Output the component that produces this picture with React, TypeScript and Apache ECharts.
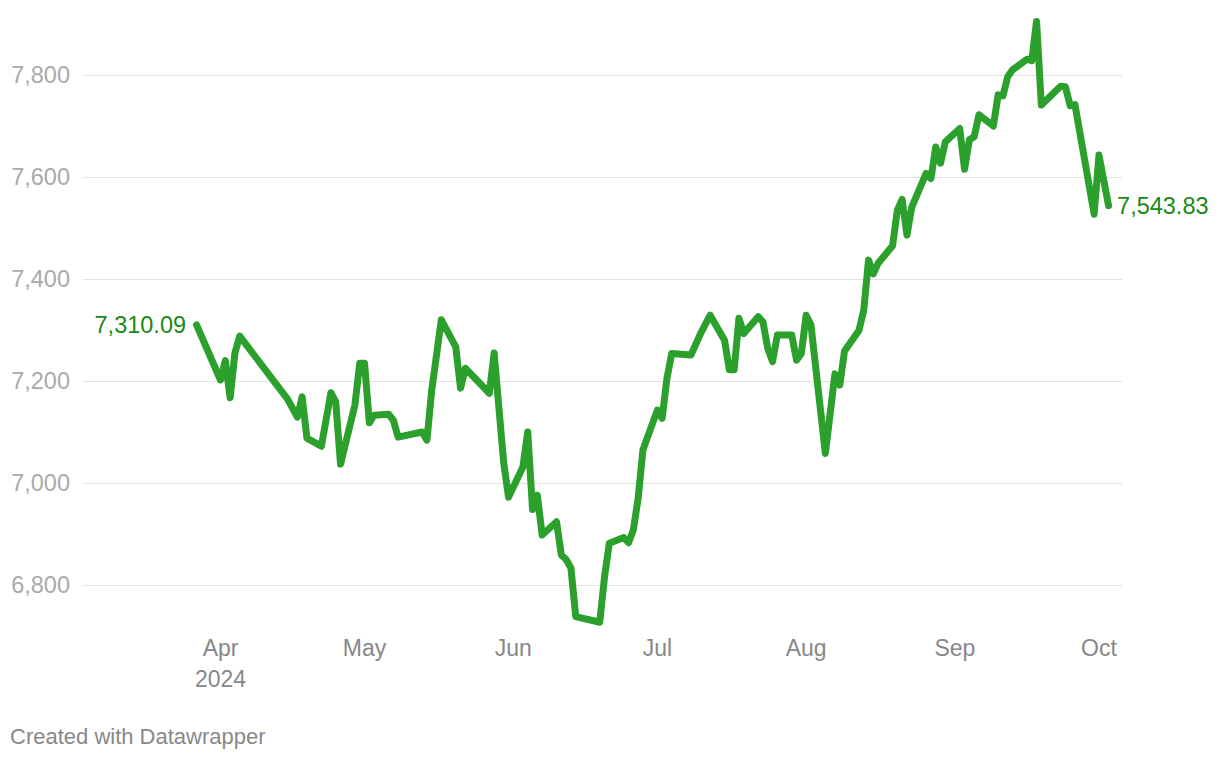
import React, { useEffect, useRef } from 'react';
import * as echarts from 'echarts';

const dates = [
  '2024-03-27', '2024-04-01', '2024-04-02', '2024-04-03', '2024-04-04', '2024-04-05',
  '2024-04-15', '2024-04-17', '2024-04-18', '2024-04-19', '2024-04-22', '2024-04-24',
  '2024-04-25', '2024-04-26', '2024-04-29', '2024-04-30', '2024-05-01', '2024-05-02',
  '2024-05-03', '2024-05-06', '2024-05-07', '2024-05-08', '2024-05-13', '2024-05-14',
  '2024-05-15', '2024-05-17', '2024-05-20', '2024-05-21', '2024-05-22', '2024-05-27',
  '2024-05-28', '2024-05-30', '2024-05-31', '2024-06-03', '2024-06-04', '2024-06-05',
  '2024-06-06', '2024-06-07', '2024-06-10', '2024-06-11', '2024-06-12', '2024-06-13',
  '2024-06-14', '2024-06-19', '2024-06-20', '2024-06-21', '2024-06-24', '2024-06-25',
  '2024-06-26', '2024-06-27', '2024-06-28', '2024-07-01', '2024-07-02', '2024-07-03',
  '2024-07-04', '2024-07-08', '2024-07-10', '2024-07-12', '2024-07-15', '2024-07-16',
  '2024-07-17', '2024-07-18', '2024-07-19', '2024-07-22', '2024-07-23', '2024-07-24',
  '2024-07-25', '2024-07-26', '2024-07-29', '2024-07-30', '2024-07-31', '2024-08-01',
  '2024-08-02', '2024-08-05', '2024-08-07', '2024-08-08', '2024-08-09', '2024-08-12',
  '2024-08-13', '2024-08-14', '2024-08-15', '2024-08-16', '2024-08-19', '2024-08-20',
  '2024-08-21', '2024-08-22', '2024-08-23', '2024-08-26', '2024-08-27', '2024-08-28',
  '2024-08-29', '2024-08-30', '2024-09-02', '2024-09-03', '2024-09-04', '2024-09-05',
  '2024-09-06', '2024-09-09', '2024-09-10', '2024-09-11', '2024-09-12', '2024-09-13',
  '2024-09-16', '2024-09-17', '2024-09-18', '2024-09-19', '2024-09-23', '2024-09-24',
  '2024-09-25', '2024-09-26', '2024-09-30', '2024-10-01', '2024-10-03',
];

const values = [
  7310.09, 7202, 7240, 7167, 7255, 7288,
  7164, 7129, 7169, 7088, 7072, 7177,
  7159, 7037, 7153, 7235, 7235, 7118,
  7133, 7135, 7123, 7090, 7100, 7084,
  7182, 7320, 7267, 7186, 7225, 7176,
  7255, 7039, 6972, 7032, 7100, 6948,
  6976, 6898, 6924, 6859, 6850, 6833,
  6738, 6727, 6816, 6882, 6893, 6883,
  6908, 6970, 7065, 7143, 7127, 7205,
  7254, 7251, 7293, 7329, 7280, 7222,
  7222, 7323, 7293, 7326, 7316, 7264,
  7238, 7290, 7290, 7241, 7254, 7329,
  7310, 7058, 7214, 7192, 7259, 7299,
  7339, 7437, 7410, 7431, 7465, 7535,
  7556, 7486, 7541, 7607, 7597, 7659,
  7627, 7669, 7695, 7615, 7673, 7679,
  7722, 7700, 7761, 7759, 7797, 7810,
  7831, 7828, 7905, 7741, 7778, 7777,
  7740, 7742, 7527, 7643, 7543.83,
];

const monthTicks = ['2024-04-01', '2024-05-01', '2024-06-01', '2024-07-01', '2024-08-01', '2024-09-01', '2024-10-01'];
const monthLabels = ['Apr\n2024', 'May', 'Jun', 'Jul', 'Aug', 'Sep', 'Oct'];
const yTicks = [6800, 7000, 7200, 7400, 7600, 7800];

const toTs = (s: string) => {
  const [y, m, d] = s.split('-').map(Number);
  return Date.UTC(y, m - 1, d);
};

const FONT = '"Liberation Sans", Arial, Helvetica, sans-serif';

export default function App() {
  const ref = useRef<HTMLDivElement>(null);
  useEffect(() => {
    const chart = echarts.init(ref.current!, null, { renderer: 'svg' });
    const DAY = 86400000;
    const apr1 = toTs('2024-04-01');
    const tickTs = monthTicks.map(toTs);
    const labelFor = (v: number) => {
      const i = tickTs.findIndex((t) => Math.abs(t - v) < DAY / 2);
      return i >= 0 ? monthLabels[i] : '';
    };
    const last = dates.length - 1;
    const green = '#178a17';
    const data = dates.map((d, i) => {
      const item: any = { value: [toTs(d), values[i]] };
      if (i === 0 || i === last) {
        item.label = {
          show: true,
          position: i === 0 ? 'left' : 'right',
          distance: i === 0 ? 10 : 8,
          color: green,
          opacity: 1,
          fontSize: 23.5,
          fontFamily: FONT,
          formatter: (p: any) =>
            p.value[1].toLocaleString('en-US', { minimumFractionDigits: 2, maximumFractionDigits: 2 }),
        };
      }
      return item;
    });
    chart.setOption({
      animation: false,
      backgroundColor: '#ffffff',
      grid: { left: 83, right: 98, top: 24, height: 601.8 },
      xAxis: {
        type: 'value',
        min: apr1 - 28.65 * DAY,
        max: apr1 + 187.8 * DAY,
        axisLine: { show: false },
        axisTick: { show: false, customValues: tickTs },
        splitLine: { show: false },
        axisLabel: {
          customValues: tickTs,
          formatter: (v: number) => labelFor(v),
          color: '#888888',
          fontSize: 23,
          lineHeight: 31,
          margin: 7,
          fontFamily: FONT,
        },
      },
      yAxis: {
        type: 'value',
        min: 6720,
        max: 7900,
        axisLine: { show: false },
        axisTick: { show: false, customValues: yTicks },
        splitLine: { show: true, lineStyle: { color: '#e2e2e2', width: 1 } },
        axisLabel: {
          customValues: yTicks,
          formatter: (v: number) => v.toLocaleString('en-US'),
          color: '#aaaaaa',
          fontSize: 23.5,
          margin: 13,
          fontFamily: FONT,
        },
      },
      series: [
        {
          type: 'line',
          data,
          symbol: 'circle',
          symbolSize: 1,
          showSymbol: true,
          clip: false,
          lineStyle: { color: '#2ca02c', width: 7, cap: 'round', join: 'round' },
          itemStyle: { color: 'rgba(0,0,0,0)' },
          label: { show: false },
          emphasis: { disabled: true },
        },
      ],
      graphic: [
        {
          type: 'text',
          left: 10,
          top: 725,
          style: {
            text: 'Created with Datawrapper',
            fill: '#888888',
            fontSize: 22,
            fontFamily: FONT,
          },
        },
      ],
    });
    return () => chart.dispose();
  }, []);
  return (
    <div
      ref={ref}
      style={{ position: 'absolute', left: 0, top: 0, width: 1220, height: 760 }}
    />
  );
}
